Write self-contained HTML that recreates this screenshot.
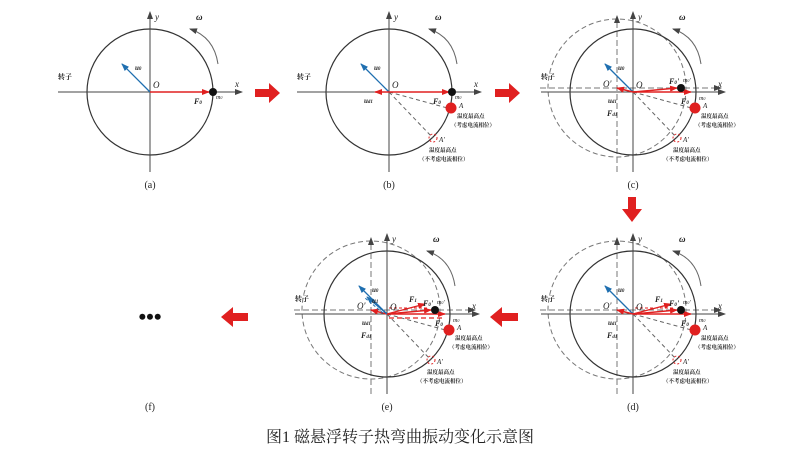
<!DOCTYPE html><html><head><meta charset="utf-8"><style>
html,body{margin:0;padding:0;background:#fff;width:799px;height:450px;overflow:hidden}
svg text{font-family:"Liberation Serif","Noto Serif CJK SC",serif}
</style></head><body>
<svg id="s" width="799" height="450" viewBox="0 0 799 450" xmlns="http://www.w3.org/2000/svg">
<defs>
<marker id="ak" markerWidth="8" markerHeight="8" refX="7" refY="4" orient="auto" markerUnits="userSpaceOnUse"><path d="M0,1 L8,4 L0,7z" fill="#444"/></marker>
<marker id="ar" markerWidth="8" markerHeight="8" refX="7" refY="4" orient="auto" markerUnits="userSpaceOnUse"><path d="M0,1 L8,4 L0,7z" fill="#e02020"/></marker>
<marker id="ab" markerWidth="8" markerHeight="8" refX="7" refY="4" orient="auto" markerUnits="userSpaceOnUse"><path d="M0,1 L8,4 L0,7z" fill="#1f6fb0"/></marker>
</defs>
<g id="root"></g>
<text x="400" y="442" font-size="16" text-anchor="middle" fill="#222">图1  磁悬浮转子热弯曲振动变化示意图</text>
<text x="150" y="324" font-size="22" text-anchor="middle" font-weight="bold" fill="#111">•••</text>
<path d="M255,89 h14 v-6 l11,10 l-11,10 v-6 h-14z" fill="#e02020"/>
<path d="M495,89 h14 v-6 l11,10 l-11,10 v-6 h-14z" fill="#e02020"/>
<path d="M628,197 v12 h-6 l10,13 l10,-13 h-6 v-12z" fill="#e02020"/>
<path d="M518,313 h-16 v-6 l-12,10 l12,10 v-6 h16z" fill="#e02020"/>
<path d="M248,313 h-15 v-6 l-12,10 l12,10 v-6 h15z" fill="#e02020"/>
</svg>
<script>
function panel(cx,cy,lvl,cap){
 var s='<g transform="translate('+cx+','+cy+')" fill="none">';
 if(lvl>=2){
  s+='<circle cx="-16" cy="-4" r="69" stroke="#777" stroke-dasharray="5,3"/>';
  s+='<line x1="-93" y1="-4" x2="88" y2="-4" stroke="#777" stroke-dasharray="6,3" marker-end="url(#ak)"/>';
  s+='<line x1="-16" y1="80" x2="-16" y2="-76" stroke="#777" stroke-dasharray="6,3" marker-end="url(#ak)"/>';
 }
 s+='<circle r="63" stroke="#333" stroke-width="1.2"/>';
 s+='<line x1="-92" y1="0" x2="92" y2="0" stroke="#444" marker-end="url(#ak)"/>';
 s+='<line x1="0" y1="80" x2="0" y2="-80" stroke="#444" marker-end="url(#ak)"/>';
 s+='<path d="M68,-28 Q64,-55 40,-63" stroke="#666" marker-end="url(#ak)"/>';
 s+='<line x1="0" y1="0" x2="-28" y2="-28" stroke="#1f6fb0" stroke-width="1.3" marker-end="url(#ab)"/>';
 if(lvl>=1){
  s+='<line x1="0" y1="0" x2="62" y2="17" stroke="#666" stroke-dasharray="4,3"/>';
  s+='<line x1="0" y1="0" x2="44" y2="46" stroke="#666" stroke-dasharray="4,3"/>';
  s+='<circle cx="44" cy="46" r="4" stroke="#e02020" stroke-dasharray="2,2"/>';
  s+='<circle cx="62" cy="16" r="5.5" fill="#e02020"/>';
 }
 var fend=lvl>=1?(lvl>=2?58:60):59;
 s+='<line x1="0" y1="0" x2="'+fend+'" y2="0" stroke="#e02020" stroke-width="1.5" marker-end="url(#ar)"/>';
 if(lvl>=1) s+='<line x1="0" y1="0" x2="'+(lvl>=2?-16:-14)+'" y2="'+(lvl>=2?-4:0)+'" stroke="#e02020" stroke-width="1.5" marker-end="url(#ar)"/>';
 if(lvl>=2){
  s+='<line x1="0" y1="0" x2="44" y2="-4" stroke="#e02020" stroke-width="1.5" marker-end="url(#ar)"/>';
  s+='<circle cx="48" cy="-4" r="4" fill="#111"/>';
 } else s+='<circle cx="63" cy="0" r="4" fill="#111"/>';
 if(lvl>=3){
  s+='<line x1="0" y1="0" x2="38" y2="-10" stroke="#e02020" stroke-width="1.3" marker-end="url(#ar)"/>';
  s+='<line x1="2" y1="-6" x2="42" y2="-6" stroke="#e02020" stroke-dasharray="3,2"/>';
 }
 if(lvl>=4){
  s+='<line x1="0" y1="0" x2="-20" y2="-17" stroke="#1f6fb0" stroke-width="1.3" marker-end="url(#ab)"/>';
  s+='<line x1="-4" y1="-1" x2="-22" y2="-16" stroke="#1f6fb0" stroke-dasharray="3,2"/>';
  s+='<line x1="2" y1="4" x2="58" y2="4" stroke="#e02020" stroke-dasharray="5,3" stroke-width="1.3"/>';
 }
 s+='</g><g transform="translate('+cx+','+cy+')" fill="#222">';
 s+='<text x="3" y="-4" font-size="9" font-style="italic">O</text>';
 s+='<text x="85" y="-5" font-size="9" font-style="italic">x</text>';
 s+='<text x="5" y="-72" font-size="9" font-style="italic">y</text>';
 s+='<text x="46" y="-72" font-size="9" font-style="italic" font-weight="bold">ω</text>';
 s+='<text x="-92" y="-13" font-size="7" font-weight="bold">转子</text>';
 s+='<text x="-15" y="-22" font-size="7" font-style="italic" font-weight="bold">u<tspan font-size="5">0</tspan></text>';
 s+='<text x="'+(lvl>=2?48:44)+'" y="12" font-size="8" font-style="italic" font-weight="bold">F<tspan font-size="5">0</tspan></text>';
 s+='<text x="66" y="'+(lvl>=2?8:7)+'" font-size="6" font-style="italic">m<tspan font-size="4">0</tspan></text>';
 if(lvl>=1){
  s+='<text x="-25" y="11" font-size="7" font-style="italic" font-weight="bold">u<tspan font-size="5">d1</tspan></text>';
  s+='<text x="70" y="16" font-size="7" font-style="italic">A</text>';
  s+='<text x="68" y="26" font-size="5.5" font-weight="bold">温度最高点</text>';
  s+='<text x="62" y="35" font-size="5.5" font-weight="bold">（考虑电流相位）</text>';
  s+='<text x="50" y="50" font-size="7" font-style="italic">A\'</text>';
  s+='<text x="40" y="60" font-size="5.5" font-weight="bold">温度最高点</text>';
  s+='<text x="30" y="69" font-size="5.5" font-weight="bold">（不考虑电流相位）</text>';
 }
 if(lvl>=2){
  s+='<text x="-30" y="-5" font-size="9" font-style="italic">O\'</text>';
  s+='<text x="-26" y="24" font-size="8" font-style="italic" font-weight="bold">F<tspan font-size="5">d1</tspan></text>';
  s+='<text x="36" y="-8" font-size="8" font-style="italic" font-weight="bold">F<tspan font-size="5">0</tspan>\'</text>';
  s+='<text x="50" y="-10" font-size="6" font-style="italic">m<tspan font-size="4">0</tspan>\'</text>';
 }
 if(lvl>=3) s+='<text x="22" y="-12" font-size="8" font-style="italic" font-weight="bold">F<tspan font-size="5">1</tspan></text>';
 if(lvl>=4) s+='<text x="-15" y="-11" font-size="7" font-style="italic" font-weight="bold">u<tspan font-size="5">1</tspan></text>';
 s+='</g>';
 s+='<text x="'+cx+'" y="'+(cy+96)+'" font-size="10" text-anchor="middle" fill="#222">'+cap+'</text>';
 return s;
}
document.getElementById('root').innerHTML=
 panel(150,92,0,'(a)')+panel(389,92,1,'(b)')+panel(633,92,2,'(c)')+panel(633,314,3,'(d)')+panel(387,314,4,'(e)')+
 '<text x="150" y="410" font-size="10" text-anchor="middle" fill="#222">(f)</text>';
</script>
</body></html>
